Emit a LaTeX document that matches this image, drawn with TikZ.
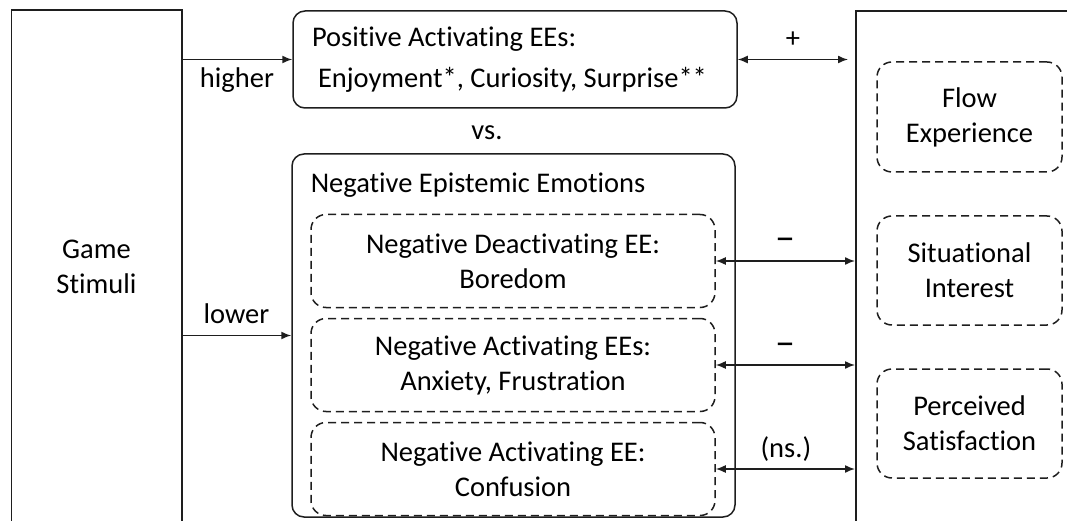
\documentclass[tikz,border=0pt]{standalone}
\usepackage{fontspec}
\setmainfont{Carlito}[Ligatures=NoCommon]
\usetikzlibrary{arrows.meta}
\definecolor{inkline}{HTML}{1E1E1E}

\begin{document}
\begin{tikzpicture}[x=1pt,y=-1pt,line width=1.5pt,draw=inkline,
    font=\fontsize{28.5}{35}\selectfont,
    solidbox/.style={draw,rounded corners=12pt,inner sep=0pt},
    dashbox/.style={draw,rounded corners=15pt,dash pattern=on 8pt off 5pt,align=center,inner sep=0pt},
    link/.style={-{Latex[length=10pt,width=8pt]}},
    twoway/.style={{Latex[length=10pt,width=8pt]}-{Latex[length=10pt,width=8pt]}},
    sign/.style={midway,anchor=base,yshift=12pt}]
  \useasboundingbox (0,0) rectangle (1067,521);

  % stimulus column (open at the bottom)
  \node[minimum width=169pt,minimum height=511pt,align=center] (stim) at (96.5,266.5) {Game\\Stimuli};
  \draw (stim.south west) |- (stim.north east) -- (stim.south east);

  % epistemic emotions
  \node[solidbox,minimum width=444pt,minimum height=97pt,text width=406pt,align=flush left] (pos) at (515,59.5)
    {Positive Activating EEs:\\[6pt]\hspace*{6pt}Enjoyment*, Curiosity, Surprise**};
  \node (vs) at (487,133) {vs.};
  \node[solidbox,minimum width=443pt,minimum height=363pt] (neg) at (513.5,335.5) {};
  \node[anchor=base west,inner sep=0pt] (negttl) at (310,193) {Negative Epistemic Emotions};
  \node[dashbox,minimum width=404pt,minimum height=93pt] (bore) at (513,261) {Negative Deactivating EE:\\Boredom};
  \node[dashbox,minimum width=404pt,minimum height=93pt] (anx) at (513,365) {Negative Activating EEs:\\Anxiety, Frustration};
  \node[dashbox,minimum width=404pt,minimum height=93pt] (conf) at (513,469) {Negative Activating EE:\\Confusion};

  % outcomes column (open at right and bottom)
  \node[minimum width=220pt,minimum height=511pt,anchor=north west] (outc) at (856,11) {};
  \draw (outc.south west) -- (outc.north west) -- (outc.north east);
  \node[dashbox,minimum width=185pt,minimum height=110pt] (flow) at (969.5,117) {Flow\\Experience};
  \node[dashbox,minimum width=185pt,minimum height=109pt] (sit) at (969.5,270.5) {Situational\\Interest};
  \node[dashbox,minimum width=185pt,minimum height=109pt] (sat) at (969.5,423.5) {Perceived\\Satisfaction};

  \draw[link] (pos.west -| stim.east) -- (pos.west) node[midway,anchor=base,yshift=-28pt] (hi) {higher};
  \draw[link] (neg.west -| stim.east) -- (neg.west) node[sign] (lo) {lower};
  \draw[twoway,shorten >=8pt] (pos.east) -- (pos.east -| outc.west) node[sign,xshift=-4pt] (plus) {+};
  \draw[twoway,shorten >=1pt] (bore.east) -- (bore.east -| outc.west)
    node[sign,yshift=-2pt,font=\fontsize{40}{40}\selectfont] (minA) {\textendash};
  \draw[twoway,shorten >=1pt] (anx.east) -- (anx.east -| outc.west)
    node[sign,yshift=-2pt,font=\fontsize{40}{40}\selectfont] (minB) {\textendash};
  \draw[twoway,shorten >=1pt] (conf.east) -- (conf.east -| outc.west) node[sign] (ns) {(ns.)};
\end{tikzpicture}
\end{document}
